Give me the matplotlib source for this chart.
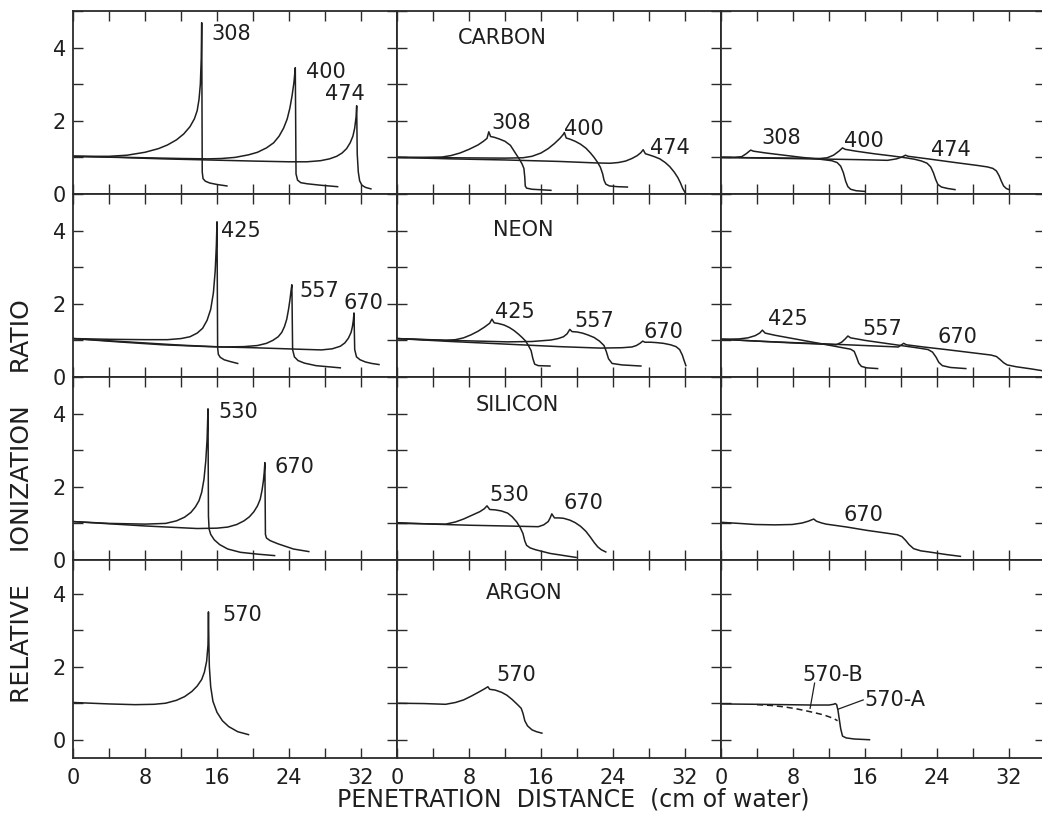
import matplotlib
matplotlib.use("Agg")
import matplotlib.pyplot as plt
from matplotlib.ticker import MultipleLocator, FixedLocator

# ---------------------------------------------------------------------------
# Depth-ionization curves (x: cm of water, y: relative ionization ratio)
# Columns: a = unmodified beam, b and c = progressively broadened beams
# ---------------------------------------------------------------------------
carbon_a = {
    "308": ([0, 2, 4, 6, 8, 9.5, 10.5, 11.5, 12.3, 13.0, 13.5, 13.8, 14.0, 14.15, 14.25, 14.3,
             14.36, 14.45, 14.7, 15.2, 16.0, 17.1],
            [1.03, 1.03, 1.03, 1.06, 1.14, 1.24, 1.34, 1.48, 1.64, 1.84, 2.06, 2.28, 2.58, 3.0, 3.7, 4.68,
             0.6, 0.42, 0.35, 0.3, 0.26, 0.22]),
    "400": ([0, 4, 8, 12, 15, 16.5, 18, 19.5, 20.5, 21.5, 22.3, 22.9, 23.4, 23.8, 24.1, 24.35, 24.55,
             24.7, 24.78, 24.95, 25.3, 26.0, 27.5, 29.4],
            [1.03, 1.01, 0.99, 0.97, 0.96, 0.97, 1.0, 1.07, 1.14, 1.26, 1.4, 1.58, 1.8, 2.05, 2.35, 2.7, 3.05,
             3.45, 0.55, 0.38, 0.31, 0.28, 0.24, 0.2]),
    "474": ([0, 5, 10, 15, 20, 24, 26, 27.5, 28.5, 29.3, 29.9, 30.4, 30.8, 31.1, 31.3, 31.45, 31.52,
             31.58, 31.7, 31.85, 32.1, 32.5, 33.1],
            [1.03, 1.0, 0.96, 0.93, 0.9, 0.88, 0.88, 0.91, 0.96, 1.03, 1.12, 1.24, 1.4, 1.58, 1.8, 2.1, 2.41,
             1.1, 0.6, 0.36, 0.24, 0.18, 0.14]),
}
carbon_b = {
    "308": ([0, 3, 5, 6, 7, 8, 9, 9.6, 10.0, 10.2, 10.4, 10.8, 11.4, 12.0, 12.6, 13.2, 13.6, 13.9,
             14.1, 14.2, 14.25, 14.4, 15.0, 17.1],
            [1.0, 1.0, 1.01, 1.05, 1.12, 1.22, 1.34, 1.44, 1.52, 1.7, 1.57, 1.55, 1.5, 1.44, 1.33, 1.1, 0.95, 0.82,
             0.7, 0.45, 0.22, 0.16, 0.13, 0.1]),
    "400": ([0, 6, 12, 14, 15, 16, 16.8, 17.5, 18.1, 18.45, 18.6, 18.8, 19.2, 19.8, 20.4, 21.0, 21.5,
             21.9, 22.3, 22.6, 22.85, 23.0, 23.2, 23.6, 24.5, 25.6],
            [1.0, 0.99, 0.98, 0.99, 1.03, 1.12, 1.24, 1.38, 1.52, 1.62, 1.68, 1.53, 1.5, 1.44, 1.36, 1.25, 1.12,
             1.0, 0.86, 0.73, 0.55, 0.38, 0.27, 0.22, 0.2, 0.19]),
    "474": ([0, 6, 12, 18, 22, 23.7, 24.6, 25.4, 26.1, 26.7, 27.1, 27.35, 27.6, 28.0, 28.6, 29.2, 29.8,
             30.3, 30.8, 31.2, 31.5, 31.75, 32.1],
            [1.0, 0.96, 0.93, 0.89, 0.85, 0.84, 0.86, 0.9, 0.97, 1.05, 1.13, 1.21, 1.1, 1.07, 1.02, 0.96, 0.86,
             0.75, 0.6, 0.45, 0.3, 0.15, 0.0]),
}
carbon_c = {
    "308": ([0, 1.5, 2.3, 2.8, 3.1, 3.3, 3.6, 5, 7, 9, 11, 12.3, 12.9, 13.3, 13.6, 13.85, 14.1, 14.4,
             15, 16],
            [1.0, 1.0, 1.02, 1.1, 1.16, 1.2, 1.17, 1.12, 1.06, 1.0, 0.95, 0.91, 0.86, 0.76, 0.58, 0.35, 0.2, 0.13,
             0.09, 0.07]),
    "400": ([0, 4, 8, 11, 11.8, 12.5, 13.1, 13.5, 13.8, 15, 17, 19, 20.5, 21.5, 22.3, 22.9, 23.3, 23.6,
             23.85, 24.1, 24.5, 25.2, 26],
            [1.0, 0.99, 0.98, 0.97, 0.99, 1.06, 1.17, 1.26, 1.22, 1.17, 1.1, 1.04, 0.99, 0.95, 0.9, 0.84, 0.74, 0.58,
             0.4, 0.26, 0.19, 0.15, 0.12]),
    "474": ([0, 5, 10, 15, 18.5, 19.5, 20.1, 20.5, 20.8, 23, 26, 28.5, 29.6, 30.2, 30.6, 30.9, 31.15,
             31.4, 31.7, 32.0],
            [1.0, 0.98, 0.96, 0.94, 0.92, 0.96, 1.01, 1.06, 1.03, 0.96, 0.86, 0.78, 0.74, 0.7, 0.63, 0.5, 0.35,
             0.22, 0.15, 0.12]),
}

neon_a = {
    "425": ([0, 4, 8, 10.5, 12, 13, 13.8, 14.4, 14.9, 15.3, 15.6, 15.8, 15.93, 16.0, 16.07, 16.15,
             16.35, 16.8, 17.5, 18.3],
            [1.05, 1.03, 1.02, 1.02, 1.05, 1.1, 1.2, 1.33, 1.55, 1.85, 2.3, 2.9, 3.6, 4.24, 0.8, 0.62,
             0.54, 0.47, 0.42, 0.37]),
    "557": ([0, 4, 8, 12, 16.6, 19, 20.5, 21.5, 22.2, 22.8, 23.2, 23.5, 23.75, 23.95, 24.1, 24.25,
             24.32, 24.4, 24.6, 25.0, 25.7, 27, 29.7],
            [1.05, 0.99, 0.93, 0.87, 0.82, 0.83, 0.86, 0.92, 1.0, 1.1, 1.22, 1.38, 1.58, 1.85, 2.1, 2.4,
             2.52, 0.75, 0.55, 0.45, 0.38, 0.31, 0.25]),
    "670": ([0, 5, 10, 15, 20, 25, 27.6, 28.8, 29.7, 30.2, 30.6, 30.9, 31.05, 31.15, 31.22, 31.3,
             31.5, 31.9, 32.5, 33.2, 34.0],
            [1.05, 0.96, 0.88, 0.83, 0.8, 0.76, 0.74, 0.77, 0.84, 0.93, 1.06, 1.22, 1.38, 1.55, 1.75, 0.75,
             0.55, 0.47, 0.41, 0.37, 0.34]),
}
neon_b = {
    "425": ([0, 3, 5.4, 6.5, 7.4, 8.2, 9.0, 9.7, 10.3, 10.55, 10.8, 11.3, 11.9, 12.5, 13.0, 13.5, 13.9,
             14.3, 14.6, 14.9, 15.1, 15.3, 15.7, 17.0],
            [1.05, 1.02, 1.0, 1.02, 1.07, 1.15, 1.25, 1.36, 1.47, 1.58, 1.48, 1.46, 1.42, 1.35, 1.27, 1.17, 1.08,
             0.98, 0.86, 0.72, 0.5, 0.35, 0.31, 0.3]),
    "557": ([0, 6, 12.3, 15, 17.1, 17.9, 18.5, 18.9, 19.2, 19.45, 20.0, 20.6, 21.2, 21.9, 22.5, 23.0,
             23.25, 23.5, 23.9, 25, 27.1],
            [1.05, 1.0, 0.96, 0.97, 1.01, 1.05, 1.1, 1.18, 1.3, 1.24, 1.23, 1.2, 1.15, 1.08, 0.98, 0.86,
             0.7, 0.5, 0.37, 0.33, 0.3]),
    "670": ([0, 6, 12, 18, 22.6, 25, 26.1, 26.6, 27.0, 27.3, 27.55, 28.2, 28.8, 29.6, 30.4, 31.0, 31.4,
             31.7, 31.9, 32.1],
            [1.05, 0.97, 0.9, 0.83, 0.79, 0.8, 0.82, 0.86, 0.92, 0.98, 0.95, 0.95, 0.94, 0.92, 0.88, 0.83, 0.75,
             0.6, 0.45, 0.31]),
}
neon_c = {
    "425": ([0, 2, 3, 3.8, 4.3, 4.6, 4.9, 6, 8, 10, 12, 13.5, 14.4, 14.8, 15.05, 15.3, 15.6, 16.2, 17.4],
            [1.03, 1.04, 1.07, 1.13, 1.2, 1.28, 1.2, 1.14, 1.05, 0.96, 0.87, 0.8, 0.76, 0.7, 0.55, 0.38, 0.29,
             0.25, 0.23]),
    "557": ([0, 4, 8, 11, 12.8, 13.4, 13.8, 14.1, 14.4, 16, 18, 20, 22, 23.0, 23.5, 23.9, 24.2, 24.6,
             25.5, 27.2],
            [1.03, 0.98, 0.93, 0.9, 0.88, 0.95, 1.04, 1.12, 1.07, 1.0, 0.93, 0.86, 0.79, 0.75, 0.68, 0.54, 0.4,
             0.31, 0.26, 0.23]),
    "670": ([0, 5, 10, 15, 19.7, 20.0, 20.3, 20.6, 22.5, 25, 28, 30.0, 30.6, 31.0, 31.4, 31.8, 32.8,
             34.5, 36.0],
            [1.03, 0.97, 0.92, 0.87, 0.82, 0.87, 0.92, 0.88, 0.82, 0.75, 0.66, 0.6, 0.56, 0.48, 0.39, 0.33, 0.28,
             0.22, 0.16]),
}

silicon_a = {
    "530": ([0, 4, 8, 10.3, 11.5, 12.4, 13.1, 13.6, 14.0, 14.3, 14.55, 14.75, 14.9, 15.0, 15.05, 15.12,
             15.3, 15.7, 16.3, 17.2, 18.6, 20.5, 22.4],
            [1.05, 1.0, 0.98, 1.0, 1.07, 1.17, 1.3, 1.45, 1.62, 1.85, 2.2, 2.7, 3.3, 4.13, 1.2, 0.85,
             0.7, 0.55, 0.42, 0.3, 0.21, 0.16, 0.12]),
    "670": ([0, 4, 8, 13.8, 16, 17.2, 18.2, 19.0, 19.6, 20.1, 20.5, 20.8, 21.0, 21.15, 21.25, 21.32,
             21.38, 21.5, 21.9, 22.8, 24.5, 26.2],
            [1.05, 0.99, 0.93, 0.86, 0.87, 0.9, 0.97, 1.07, 1.18, 1.32, 1.48, 1.66, 1.9, 2.15, 2.4, 2.66,
             0.7, 0.6, 0.53, 0.44, 0.3, 0.23]),
}
silicon_b = {
    "530": ([0, 3, 5.4, 6.5, 7.4, 8.3, 9.2, 9.7, 10.0, 10.3, 10.9, 11.6, 12.3, 12.8, 13.3, 13.7, 14.0,
             14.2, 14.4, 14.8, 15.4, 17, 19.9],
            [1.0, 0.99, 0.98, 1.04, 1.12, 1.22, 1.32, 1.4, 1.48, 1.38, 1.37, 1.34, 1.28, 1.18, 1.04, 0.88, 0.72,
             0.52, 0.4, 0.33, 0.28, 0.18, 0.07]),
    "670": ([0, 4, 8, 12, 15.7, 16.3, 16.8, 17.0, 17.2, 17.5, 18.0, 18.5, 19.2, 19.8, 20.4, 21.0, 21.5,
             21.9, 22.3, 22.7, 23.2],
            [1.02, 0.98, 0.95, 0.93, 0.91, 0.96, 1.05, 1.14, 1.26, 1.15, 1.15, 1.14, 1.09, 1.02, 0.92, 0.78, 0.62,
             0.48, 0.36, 0.28, 0.22]),
}
silicon_c = {
    "670": ([0, 2, 3.8, 6, 7.9, 9.0, 9.7, 10.3, 10.6, 11.2, 11.7, 14, 16.2, 18.5, 19.6, 20.1, 20.5,
             20.9, 21.4, 22.2, 23.1, 25, 26.6],
            [1.03, 1.0, 0.97, 0.96, 0.97, 1.01, 1.06, 1.12, 1.06, 1.01, 0.98, 0.9, 0.81, 0.73, 0.69, 0.64, 0.54,
             0.42, 0.31, 0.25, 0.22, 0.15, 0.1]),
}

argon_a = {
    "570": ([0, 4, 6.9, 9, 10.3, 11.5, 12.4, 13.2, 13.8, 14.3, 14.6, 14.85, 15.0, 15.05, 15.1, 15.15,
             15.3, 15.55, 16.0, 16.6, 17.3, 18.3, 19.5],
            [1.02, 0.98, 0.96, 0.97, 1.0, 1.08, 1.18, 1.32, 1.47, 1.65, 1.85, 2.15, 2.59, 3.5, 2.6, 2.0,
             1.45, 1.05, 0.75, 0.52, 0.36, 0.22, 0.14]),
}
argon_b = {
    "570": ([0, 3, 5.4, 6.5, 7.4, 8.3, 9.2, 9.7, 10.1, 10.3, 10.9, 11.6, 12.2, 12.8, 13.4, 13.8, 14.0,
             14.2, 14.5, 15.0, 15.5, 16.1],
            [1.0, 0.99, 0.97, 1.02, 1.09, 1.2, 1.32, 1.39, 1.45, 1.38, 1.36, 1.3, 1.22, 1.1, 0.96, 0.86, 0.72,
             0.52, 0.38, 0.27, 0.22, 0.18]),
}
argon_c = {
    "570-A": ([0, 4, 7.2, 10, 12.0, 12.5, 12.7, 12.85, 13.0, 13.15, 13.3, 13.5, 13.9, 14.8, 16.5],
              [0.98, 0.97, 0.96, 0.95, 0.95, 0.97, 0.99, 0.96, 0.8, 0.55, 0.3, 0.1, 0.05, 0.02, 0.0]),
    "570-B": ([4, 5.5, 7, 8.3, 9.3, 10.4, 11.4, 12.1, 12.6, 12.95],
              [0.96, 0.94, 0.9, 0.85, 0.8, 0.74, 0.68, 0.62, 0.57, 0.52]),
}

elements = ["CARBON", "NEON", "SILICON", "ARGON"]
panels = [
    [carbon_a, carbon_b, carbon_c],
    [neon_a, neon_b, neon_c],
    [silicon_a, silicon_b, silicon_c],
    [argon_a, argon_b, argon_c],
]
dashed_curves = {"570-B"}
x_ticks_labeled = [0, 8, 16, 24, 32]
y_ticks_labeled = [0, 2, 4]

# ---------------------------------------------------------------------------
# Layout (pixels) and annotation placement (data coords: left x, centre y)
# ---------------------------------------------------------------------------
W, H, DPI = 1042, 819, 100
col_left = [73, 397, 721]
col_width = 324
row_top = [11, 194, 377, 560]
row_height = [183, 183, 183, 198]
row_ylim = [(0, 5.0), (0, 5.0), (0, 5.0), (-0.5, 4.92)]

label_pos = [
    [{"308": (15.4, 4.36), "400": (25.9, 3.34), "474": (28.0, 2.74)},
     {"308": (10.5, 1.95), "400": (18.6, 1.77), "474": (28.1, 1.26)},
     {"308": (4.5, 1.53), "400": (13.7, 1.44), "474": (23.3, 1.21)}],
    [{"425": (16.4, 4.0), "557": (25.2, 2.36), "670": (30.1, 2.03)},
     {"425": (10.9, 1.78), "557": (19.7, 1.53), "670": (27.4, 1.22)},
     {"425": (5.2, 1.58), "557": (15.7, 1.31), "670": (24.1, 1.10)}],
    [{"530": (16.2, 4.05), "670": (22.4, 2.55)},
     {"530": (10.3, 1.77), "670": (18.5, 1.55)},
     {"670": (13.6, 1.24)}],
    [{"570": (16.6, 3.41)},
     {"570": (11.0, 1.77)},
     {"570-B": (9.0, 1.77), "570-A": (15.9, 1.09)}],
]
element_pos = [(11.7, 4.27), (14.0, 4.02), (13.4, 4.23), (14.1, 4.03)]
leaders = {"570-B": ((10.4, 1.55), (9.9, 0.86)),
           "570-A": ((15.8, 1.09), (13.05, 0.84))}

INK = "#1f1f1f"
FONT = 15

plt.rcParams["font.family"] = ["DejaVu Sans"]
fig = plt.figure(figsize=(W / DPI, H / DPI), dpi=DPI)
fig.patch.set_facecolor("white")

for r in range(4):
    for c in range(3):
        rect = [col_left[c] / W,
                1 - (row_top[r] + row_height[r]) / H,
                col_width / W,
                row_height[r] / H]
        ax = fig.add_axes(rect)
        ax.set_xlim(0, 36)
        ax.set_ylim(*row_ylim[r])
        for sp in ax.spines.values():
            sp.set_color("#2b2b2b")
            sp.set_linewidth(1.3)

        ax.xaxis.set_major_locator(FixedLocator(x_ticks_labeled))
        ax.xaxis.set_minor_locator(MultipleLocator(4))
        ax.yaxis.set_major_locator(FixedLocator(y_ticks_labeled))
        ax.yaxis.set_minor_locator(MultipleLocator(1))
        for which in ("major", "minor"):
            ax.tick_params(axis="both", which=which, direction="in", length=7,
                           width=1.0, color="#2b2b2b", top=True, right=True,
                           bottom=True, left=True)
        ax.tick_params(axis="x", which="major", labelbottom=(r == 3),
                       labelsize=FONT, pad=7, labelcolor=INK)
        ax.tick_params(axis="y", which="major", labelleft=(c == 0),
                       labelsize=FONT, pad=5, labelcolor=INK)

        curves = panels[r][c]
        for name, (xs, ys) in curves.items():
            ax.plot(xs, ys, color=INK, lw=1.1,
                    ls=(0, (4, 2.5)) if name in dashed_curves else "-",
                    solid_joinstyle="round", clip_on=True)

        for name, (lx, ly) in label_pos[r][c].items():
            ax.text(lx, ly, name, fontsize=FONT, color=INK, ha="left", va="center")
            if name in leaders:
                (x0, y0), (x1, y1) = leaders[name]
                ax.plot([x0, x1], [y0, y1], color=INK, lw=0.9)

        if c == 1:
            ex, ey = element_pos[r]
            ax.text(ex, ey, elements[r], fontsize=FONT, color=INK,
                    ha="center", va="center")

fig.text(573 / W, 1 - 800 / H, "PENETRATION  DISTANCE  (cm of water)",
         fontsize=17, color=INK, ha="center", va="center")
fig.text(22 / W, 1 - 501 / H, "RELATIVE    IONIZATION    RATIO",
         fontsize=18, color=INK, ha="center", va="center", rotation=90)

fig.savefig("out.png", dpi=DPI, facecolor="white")
